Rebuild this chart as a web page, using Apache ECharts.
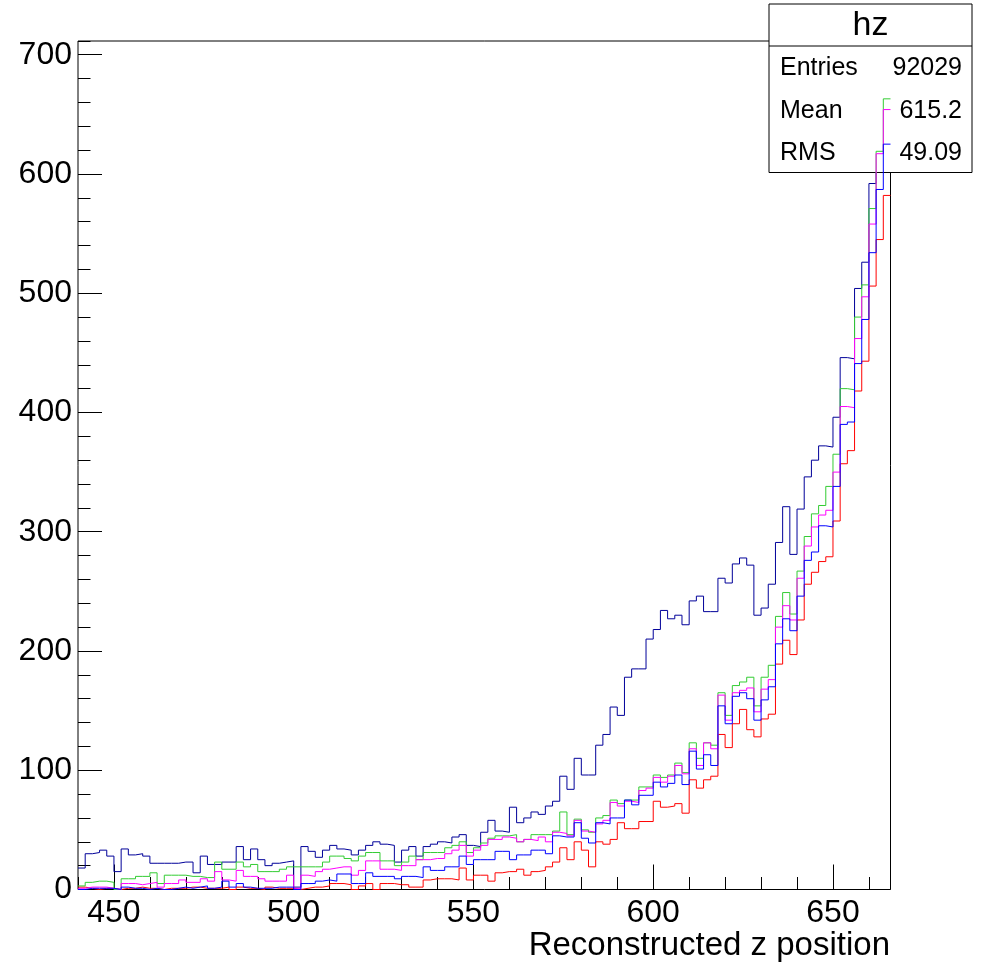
<!DOCTYPE html>
<html>
<head>
<meta charset="utf-8">
<script src="https://cdn.jsdelivr.net/npm/echarts@6/dist/echarts.min.js"></script>
<style>
  html, body { margin: 0; padding: 0; background: #ffffff; }
  #chart { width: 982px; height: 962px; }
</style>
</head>
<body>
<div id="chart"></div>
<script>
// Histogram binning: 113 bins of width 2, starting at z = 440
const binLow = 440;
const binWidth = 2;

// Bin contents per histogram (counts)
const hzNavy = [
  18, 30, 31, 33, 28, 15, 34, 29, 30, 28, 22, 22, 22, 22, 23, 23, 14, 28, 21, 21,
  23, 23, 36, 25, 34, 25, 20, 22, 23, 24, 2, 36, 32, 27, 33, 37, 34, 33, 29, 33,
  37, 40, 38, 37, 23, 33, 36, 28, 36, 38, 40, 39, 44, 46, 37, 36, 48, 58, 49, 48,
  69, 56, 60, 65, 63, 70, 74, 95, 84, 110, 96, 96, 121, 130, 153, 146, 178, 185, 185, 210,
  218, 234, 227, 230, 222, 242, 246, 233, 233, 261, 257, 273, 278, 272, 230, 236, 256, 291, 321, 281,
  319, 346, 360, 372, 371, 396, 446, 445, 504, 526, 592, 632, 678
];
const hzGreen = [
  3, 6, 7, 7, 6, 0, 9, 9, 11, 11, 14, 5, 12, 12, 12, 11, 11, 10, 10, 23,
  17, 17, 23, 19, 21, 15, 15, 15, 17, 19, 19, 19, 19, 19, 23, 28, 28, 26, 24, 28,
  31, 31, 24, 24, 20, 23, 28, 25, 31, 31, 31, 35, 37, 40, 31, 35, 39, 43, 45, 45,
  46, 40, 42, 46, 46, 46, 49, 65, 46, 59, 50, 48, 60, 62, 75, 72, 75, 75, 86, 86,
  96, 94, 96, 106, 98, 123, 110, 123, 121, 165, 146, 171, 174, 178, 154, 178, 188, 229, 249, 231,
  267, 296, 315, 322, 338, 365, 420, 419, 480, 507, 571, 619, 663
];
const hzMagenta = [
  1, 2, 2, 2, 1, 0, 5, 5, 4, 5, 6, 2, 5, 5, 8, 6, 6, 9, 7, 15,
  8, 7, 16, 11, 11, 9, 7, 7, 7, 12, 1, 12, 11, 15, 17, 18, 19, 19, 12, 16,
  24, 24, 17, 17, 16, 20, 20, 25, 25, 26, 26, 30, 33, 37, 28, 33, 37, 42, 42, 44,
  43, 40, 42, 41, 44, 40, 48, 47, 45, 58, 49, 48, 55, 58, 73, 70, 74, 73, 83, 85,
  94, 90, 95, 104, 97, 118, 104, 123, 118, 163, 142, 165, 167, 169, 149, 168, 176, 220, 238, 226,
  261, 288, 304, 314, 318, 350, 405, 404, 462, 497, 558, 617, 654
];
const hzBlue = [
  0, 1, 1, 1, 1, 0, 2, 1, 1, 0, 1, 0, 0, 1, 2, 1, 2, 3, 1, 2,
  7, 2, 5, 2, 1, 1, 1, 2, 2, 2, 0, 5, 5, 7, 8, 7, 13, 13, 5, 5,
  14, 11, 11, 11, 9, 11, 11, 10, 19, 16, 16, 19, 19, 28, 21, 25, 25, 25, 32, 32,
  25, 29, 29, 33, 33, 30, 45, 44, 44, 56, 43, 39, 56, 55, 60, 60, 75, 71, 79, 79,
  90, 86, 89, 96, 88, 116, 101, 113, 104, 154, 139, 162, 165, 160, 142, 159, 170, 206, 227, 217,
  246, 276, 283, 305, 304, 338, 390, 392, 441, 478, 534, 587, 625
];
const hzRed = [
  2, 1, 0, 1, 1, 0, 1, 1, 2, 1, 1, 0, 1, 1, 1, 2, 2, 1, 1, 1,
  2, 0, 2, 1, 1, 0, 2, 1, 1, 1, 0, 1, 2, 2, 3, 5, 5, 4, 0, 3,
  5, 0, 5, 5, 4, 4, 2, 2, 8, 9, 9, 9, 8, 18, 8, 12, 12, 7, 14, 15,
  15, 17, 12, 15, 16, 19, 23, 35, 25, 40, 33, 19, 40, 38, 42, 56, 51, 51, 57, 57,
  74, 69, 70, 72, 64, 92, 85, 92, 95, 130, 119, 139, 151, 134, 128, 143, 147, 189, 209, 197,
  226, 256, 266, 275, 279, 309, 357, 368, 418, 443, 506, 545, 582
];

// Axis tick values and labels
const xMajorTicks = [450, 500, 550, 600, 650];
const yMajorTicks = [0, 100, 200, 300, 400, 500, 600, 700];

// Stats box entries
const statsTitle = 'hz';
const statsRows = [
  ['Entries', '92029'],
  ['Mean', '615.2'],
  ['RMS', '49.09']
];
const xTitle = 'Reconstructed z position';

const X_MIN = binLow;
const X_MAX = binLow + binWidth * hzNavy.length;
const Y_MAX = 711.5;

// Turn bin contents into a histogram outline (flat top across each bin)
function outline(values) {
  const pts = [];
  values.forEach((v, i) => {
    pts.push([binLow + i * binWidth, v]);
    pts.push([binLow + (i + 1) * binWidth, v]);
  });
  return pts;
}

function histSeries(name, values, color, z) {
  return {
    name: name,
    type: 'line',
    data: outline(values),
    showSymbol: false,
    symbol: 'none',
    z: z,
    clip: true,
    animation: false,
    silent: true,
    lineStyle: { color: color, width: 1 },
    emphasis: { disabled: true }
  };
}

const FONT = 'Liberation Sans, Arial, Helvetica, sans-serif';
const chart = echarts.init(document.getElementById('chart'), null, { renderer: 'canvas' });

const tickStyle = { color: '#000000', width: 1 };

const option = {
  animation: false,
  backgroundColor: '#ffffff',
  grid: {
    left: 78, right: 91.5, top: 41, bottom: 72.5,
    show: true, borderColor: '#000000', borderWidth: 1, backgroundColor: 'transparent'
  },
  xAxis: [
    {
      type: 'value', min: X_MIN, max: X_MAX, interval: 10,
      axisLine: { show: false },
      axisTick: { show: true, inside: true, length: 12.5, lineStyle: tickStyle },
      axisLabel: {
        customValues: xMajorTicks, color: '#000000', fontSize: 32,
        fontFamily: FONT, margin: 8
      },
      splitLine: { show: false }
    },
    {
      type: 'value', min: X_MIN, max: X_MAX, position: 'bottom',
      axisLine: { show: false },
      axisTick: { show: true, inside: true, length: 25, customValues: xMajorTicks, lineStyle: tickStyle },
      axisLabel: { show: false },
      splitLine: { show: false }
    }
  ],
  yAxis: [
    {
      type: 'value', min: 0, max: Y_MAX, interval: 20,
      axisLine: { show: false },
      axisTick: { show: true, inside: true, length: 12.5, lineStyle: tickStyle },
      axisLabel: {
        customValues: yMajorTicks, color: '#000000', fontSize: 32,
        fontFamily: FONT, margin: 6
      },
      splitLine: { show: false }
    },
    {
      type: 'value', min: 0, max: Y_MAX, position: 'left', offset: 0,
      axisLine: { show: false },
      axisTick: { show: true, inside: true, length: 24, customValues: yMajorTicks, lineStyle: tickStyle },
      axisLabel: { show: false },
      splitLine: { show: false }
    }
  ],
  series: [
    histSeries('hz', hzNavy, '#000099', 2),
    histSeries('red', hzRed, '#ff0000', 60),
    histSeries('green', hzGreen, '#33cc33', 61),
    histSeries('magenta', hzMagenta, '#ff00ff', 62),
    histSeries('blue', hzBlue, '#0000ff', 63)
  ],
  graphic: [
    {
      type: 'group', z: 50, silent: true,
      children: [
        {
          type: 'rect', z: 50,
          shape: { x: 769, y: 4, width: 203, height: 168.5 },
          style: { fill: '#ffffff', stroke: '#000000', lineWidth: 1 }
        },
        {
          type: 'line', z: 51,
          shape: { x1: 769, y1: 46, x2: 972, y2: 46 },
          style: { stroke: '#000000', lineWidth: 1 }
        },
        {
          type: 'text', z: 51, x: 870.5, y: 26,
          style: { text: statsTitle, fill: '#000000', font: '34px ' + FONT, align: 'center', verticalAlign: 'middle' }
        },
        ...statsRows.flatMap((row, k) => [
          {
            type: 'text', z: 51, x: 780, y: 68.5 + k * 42.5,
            style: { text: row[0], fill: '#000000', font: '25px ' + FONT, align: 'left', verticalAlign: 'middle' }
          },
          {
            type: 'text', z: 51, x: 962, y: 68.5 + k * 42.5,
            style: { text: row[1], fill: '#000000', font: '25px ' + FONT, align: 'right', verticalAlign: 'middle' }
          }
        ])
      ]
    },
    {
      type: 'text', z: 51, x: 890, y: 946, silent: true,
      style: { text: xTitle, fill: '#000000', font: '33px ' + FONT, align: 'right', verticalAlign: 'middle' }
    }
  ]
};

chart.setOption(option);
</script>
</body>
</html>
